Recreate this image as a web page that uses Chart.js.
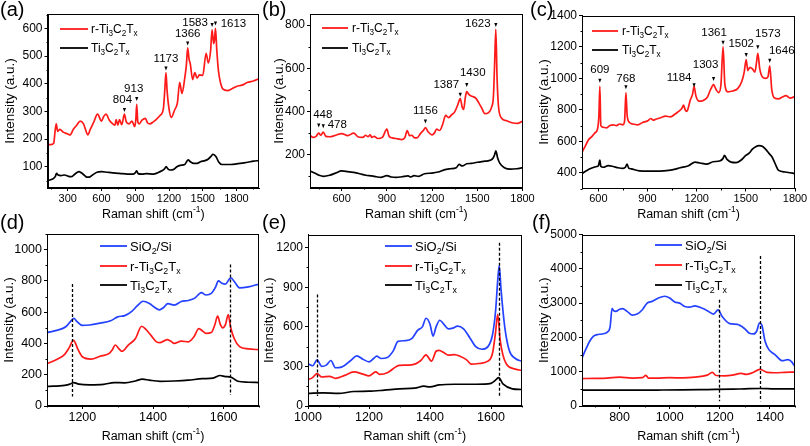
<!DOCTYPE html>
<html><head><meta charset="utf-8">
<script src="https://cdn.jsdelivr.net/npm/chart.js@4/dist/chart.umd.min.js"></script>
<style>
html,body{margin:0;padding:0;background:#fff;}
#wrap{position:relative;width:810px;height:446px;background:#fff;}
canvas{position:absolute;left:0;top:0;}
</style></head><body><div id="wrap">
<canvas id="ca" width="810" height="446"></canvas>
<canvas id="cb" width="810" height="446"></canvas>
<canvas id="cc" width="810" height="446"></canvas>
<canvas id="cd" width="810" height="446"></canvas>
<canvas id="ce" width="810" height="446"></canvas>
<canvas id="cf" width="810" height="446"></canvas>
</div>
<script>
// ---------------- DATA ----------------
// series names (markup: _x = subscript char, ^{..} = superscript)
const nameBlue = 'SiO_2/Si';
const nameRed = 'r-Ti_3C_2T_x';
const nameBlack = 'Ti_3C_2T_x';

// Panel (a)
const aTicksX = [300, 600, 900, 1200, 1500, 1800];
const aTicksY = [100, 200, 300, 400, 500, 600];
const aRedX = [120,150,175,188,198,210,230,260,290,320,350,380,410,440,460,478,500,530,565,600,620,640,670,700,720,730,745,760,780,804,820,845,870,895,905,913,922,935,960,990,1010,1030,1060,1090,1120,1150,1163,1173,1183,1200,1220,1250,1275,1295,1315,1340,1355,1366,1378,1390,1410,1430,1450,1470,1500,1530,1550,1570,1583,1597,1605,1613,1625,1640,1660,1680,1720,1760,1800,1850,1900,1950,2000];
const aRedY = [180,180,185,230,255,228,235,225,220,215,235,250,265,255,232,215,235,260,290,265,282,290,268,255,250,270,250,270,252,290,262,255,265,245,270,325,265,255,268,275,258,255,262,272,285,310,380,440,375,310,278,305,332,405,365,420,470,530,490,470,415,440,420,432,430,510,475,520,595,545,560,600,520,445,400,380,375,382,390,395,405,410,418];
const aBlackX = [120,150,175,190,200,215,240,270,300,330,360,385,400,420,445,470,490,520,560,600,650,700,760,830,880,900,913,925,960,1000,1060,1100,1140,1160,1175,1190,1210,1240,1270,1300,1340,1370,1390,1420,1450,1480,1520,1550,1575,1590,1605,1620,1640,1670,1700,1750,1800,1850,1900,1950,2000];
const aBlackY = [50,53,58,65,76,70,68,70,66,64,72,80,82,78,70,62,62,70,80,82,80,78,76,73,73,78,85,75,73,75,73,78,86,92,100,92,88,90,100,105,108,125,118,112,112,118,122,128,138,145,142,135,118,108,108,108,110,113,116,120,122];
const aPeakLabels = ['804', '913', '1173', '1366', '1583', '1613'];
const aPeakX = [804, 913, 1173, 1366, 1583, 1613];
const aPeakY = [305, 345, 455, 545, 612, 618];

// Panel (b)
const bTicksX = [600, 900, 1200, 1500, 1800];
const bTicksY = [200, 400, 600, 800];
const bRedX = [390,410,430,448,462,478,495,520,560,600,640,680,710,740,760,775,790,800,815,840,870,900,915,935,960,1000,1020,1035,1050,1065,1080,1100,1125,1145,1156,1175,1200,1215,1230,1250,1270,1290,1310,1330,1350,1370,1387,1400,1410,1420,1430,1445,1465,1490,1510,1530,1550,1575,1595,1607,1615,1623,1631,1640,1660,1690,1730,1770,1800];
const bRedY = [290,280,285,300,290,305,285,283,290,298,288,300,282,280,290,283,292,280,285,275,280,318,285,278,275,270,280,312,288,290,280,278,300,315,325,305,292,300,318,312,340,382,372,385,398,430,460,420,410,462,492,478,470,462,440,415,390,395,420,470,620,780,560,430,370,358,348,345,355];
const bBlackX = [390,420,450,480,520,560,600,640,680,720,760,800,830,860,900,930,960,1000,1040,1060,1080,1110,1150,1200,1240,1280,1320,1360,1380,1400,1430,1460,1500,1550,1590,1605,1615,1623,1635,1650,1680,1720,1760,1800];
const bBlackY = [125,115,105,100,105,115,125,122,118,112,105,102,98,95,103,97,95,98,102,97,103,100,112,115,120,130,135,140,155,148,158,160,165,170,175,185,200,218,185,160,140,133,135,140];
const bPeakLabels = ['448', '478', '1156', '1387', '1430', '1623'];
const bPeakX = [448, 478, 1156, 1387, 1430, 1623];
const bPeakY = [335, 332, 354, 477, 523, 800];

// Panel (c)
const cTicksX = [600, 900, 1200, 1500, 1800];
const cTicksY = [400, 600, 800, 1000, 1200, 1400];
const cRedX = [500,520,540,560,580,595,603,609,615,625,650,670,690,710,730,750,760,768,776,790,810,840,870,900,920,935,950,980,1010,1040,1070,1090,1110,1120,1130,1138,1145,1160,1175,1184,1195,1215,1240,1265,1285,1303,1318,1335,1348,1361,1372,1390,1420,1450,1475,1490,1502,1512,1525,1540,1555,1565,1573,1585,1600,1620,1635,1646,1658,1675,1700,1720,1745,1770,1800];
const cRedY = [530,570,610,630,655,680,760,950,700,690,685,700,705,700,710,705,730,910,760,720,710,705,720,730,745,735,740,750,760,755,775,790,810,830,800,790,800,860,900,950,890,855,860,880,930,960,930,910,960,1200,960,915,920,935,980,1040,1120,1050,1070,1060,1040,1100,1160,1060,1010,1000,1010,1080,930,875,870,880,890,875,885];
const cBlackX = [500,530,560,590,600,609,615,630,660,690,720,750,765,775,785,800,850,900,950,1000,1050,1100,1150,1190,1220,1260,1300,1340,1360,1370,1385,1410,1440,1470,1500,1520,1540,1560,1580,1600,1620,1640,1660,1680,1700,1740,1770,1800];
const cBlackY = [395,415,430,440,445,480,440,435,445,440,432,428,435,455,430,425,412,410,410,412,418,432,445,468,462,455,470,475,490,510,485,468,465,480,510,525,550,565,572,568,550,525,500,455,415,405,400,395];
const cPeakLabels = ['609', '768', '1184', '1303', '1361', '1502', '1573', '1646'];
const cPeakX = [609, 768, 1184, 1303, 1361, 1502, 1573, 1646];
const cPeakY = [985, 943, 957, 996, 1226, 1149, 1198, 1113];

// Panel (d)
const dTicksX = [1200, 1400, 1600];
const dTicksY = [0, 200, 400, 600, 800, 1000];
const dBlueX = [1100,1130,1155,1168,1176,1185,1200,1220,1250,1280,1300,1320,1340,1355,1372,1390,1405,1418,1430,1442,1460,1480,1500,1518,1530,1537,1550,1565,1577,1585,1595,1605,1620,1632,1645,1670,1700];
const dBlueY = [470,485,510,545,560,540,515,518,530,545,570,578,605,640,670,655,630,615,630,655,645,668,675,690,715,725,710,720,760,800,785,780,820,790,755,762,780];
const dRedX = [1100,1130,1150,1162,1175,1188,1200,1225,1250,1275,1285,1293,1302,1312,1330,1350,1368,1380,1395,1410,1420,1430,1440,1450,1460,1480,1500,1515,1530,1540,1550,1565,1575,1583,1590,1597,1605,1613,1620,1630,1645,1670,1700];
const dRedY = [270,300,330,370,420,360,315,300,318,335,360,390,370,350,390,430,510,490,450,410,405,415,425,415,400,415,410,440,495,480,465,470,520,575,525,500,520,585,500,430,380,365,360];
const dBlackX = [1100,1150,1165,1175,1190,1220,1260,1290,1320,1350,1370,1390,1420,1460,1500,1540,1570,1590,1605,1620,1640,1670,1700];
const dBlackY = [125,132,140,150,140,135,138,150,148,160,172,165,158,160,165,175,178,195,188,185,158,152,150];
const dDashX = [1172, 1617];
const dDashFrom = [60, 70];
const dDashTo = [780, 905];

// Panel (e)
const eTicksX = [1000, 1200, 1400, 1600];
const eTicksY = [0, 300, 600, 900, 1200];
const eBlueX = [1000,1015,1030,1045,1060,1075,1090,1110,1140,1160,1180,1200,1215,1225,1240,1260,1280,1295,1320,1340,1360,1375,1387,1400,1410,1420,1432,1445,1460,1475,1490,1510,1530,1550,1570,1590,1605,1615,1622,1627,1633,1645,1660,1680,1700];
const eBlueY = [320,305,350,300,310,345,290,295,345,380,355,335,360,378,360,368,420,490,495,510,575,600,665,620,530,600,650,620,585,590,605,585,520,450,430,450,540,720,950,1065,880,600,420,360,340];
const eRedX = [1000,1015,1030,1045,1070,1090,1120,1150,1180,1200,1222,1235,1260,1290,1300,1340,1370,1387,1405,1420,1430,1445,1460,1480,1500,1520,1535,1560,1590,1605,1615,1622,1630,1650,1680,1700];
const eRedY = [200,215,245,220,225,210,232,258,242,228,258,240,252,300,308,312,345,388,340,415,422,405,385,390,375,350,318,322,340,400,560,695,500,320,280,270];
const eBlackX = [1000,1050,1100,1150,1200,1250,1300,1350,1380,1400,1430,1480,1550,1600,1612,1625,1640,1670,1700];
const eBlackY = [95,100,95,110,112,120,130,135,150,145,160,165,165,172,190,215,165,130,125];
const eDashX = [1031, 1625];
const eDashFrom = [75, 75];
const eDashTo = [845, 1238];

// Panel (f)
const fTicksX = [800, 1000, 1200, 1400];
const fTicksY = [0, 1000, 2000, 3000, 4000, 5000];
const fBlueX = [650,665,680,695,710,730,750,762,770,776,785,800,812,830,850,870,890,910,930,955,980,1000,1020,1040,1060,1080,1100,1130,1150,1175,1193,1210,1240,1270,1300,1318,1335,1348,1358,1368,1380,1395,1420,1450,1470,1485,1500];
const fBlueY = [1400,1650,1880,2030,2080,2100,2150,2300,2850,2780,2760,2820,2840,2760,2650,2680,2800,3000,3050,3150,3200,3150,3030,3000,2900,2880,2920,2850,2780,2680,2800,2600,2400,2380,2250,2120,2100,2200,2420,2350,1900,1650,1500,1320,1350,1300,1150];
const fRedX = [650,700,750,800,850,890,905,915,950,1000,1050,1100,1150,1170,1185,1220,1250,1285,1305,1330,1360,1390,1420,1460,1500];
const fRedY = [800,805,815,840,815,825,890,815,815,825,820,840,900,980,890,880,900,950,920,970,1070,980,970,980,990];
const fBlackX = [650,750,850,950,1050,1150,1250,1300,1360,1420,1500];
const fBlackY = [460,460,462,465,470,480,490,500,510,500,500];
const fDashX = [1195, 1360];
const fDashFrom = [140, 140];
const fDashTo = [3100, 4370];

// ---------------- STYLE / LAYOUT ----------------
const FONT = "'Liberation Sans', Arial, Helvetica, sans-serif";
const COL = {blue: '#2442ff', red: '#ff1a1a', black: '#000000'};
const YW = 40, XH = 30;
const LINE_W = 1.7;

function pairs(xs, ys) { return xs.map((v, i) => ({x: v, y: ys[i]})); }

// rich text: _c subscript single char, ^{...} superscript
function parseRich(s) {
  const out = []; let cur = '';
  for (let i = 0; i < s.length; i++) {
    const ch = s[i];
    if (ch === '_') { if (cur) out.push([cur, 0]); cur = ''; out.push([s[i + 1], -1]); i++; }
    else if (ch === '^' && s[i + 1] === '{') { if (cur) out.push([cur, 0]); cur = ''; const j = s.indexOf('}', i); out.push([s.slice(i + 2, j), 1]); i = j; }
    else cur += ch;
  }
  if (cur) out.push([cur, 0]);
  return out;
}
function drawRich(ctx, s, x, y, size, align) {
  const segs = parseRich(s);
  const fs = k => (k === 0 ? size : size * 0.68);
  let w = 0;
  segs.forEach(([t, k]) => { ctx.font = fs(k) + 'px ' + FONT; w += ctx.measureText(t).width; });
  let cx = align === 'center' ? x - w / 2 : (align === 'right' ? x - w : x);
  const base = y + size * 0.36;
  ctx.textBaseline = 'alphabetic'; ctx.textAlign = 'left';
  segs.forEach(([t, k]) => {
    ctx.font = fs(k) + 'px ' + FONT;
    const by = k === 0 ? base : (k < 0 ? base + size * 0.26 : base - size * 0.42);
    ctx.fillText(t, cx, by);
    cx += ctx.measureText(t).width;
  });
}

const panels = [
  {id: 'ca', letter: '(a)', letterPos: [0, 10], box: [47.5, 14, 259, 188], xr: [120, 2000], yr: [23, 652],
   xt: aTicksX, yt: aTicksY, xFont: 11, yFont: 12, legFont: 12,
   series: [[nameRed, aRedX, aRedY, COL.red], [nameBlack, aBlackX, aBlackY, COL.black]],
   legend: {x0: 60, x1: 88, tx: 91, ys: [29, 48]}, yTitleX: 9, xTitleY: 213,
   peaks: [aPeakLabels, aPeakX, aPeakY], peakOff: [[-2, -10], [-3, -10], [0, -10], [0, -10], [-17, -2], [18, 0]]},
  {id: 'cb', letter: '(b)', letterPos: [262, 10], box: [310, 14, 522.5, 188], xr: [390, 1800], yr: [46, 851],
   xt: bTicksX, yt: bTicksY, xFont: 11, yFont: 12, legFont: 12,
   series: [[nameRed, bRedX, bRedY, COL.red], [nameBlack, bBlackX, bBlackY, COL.black]],
   legend: {x0: 322, x1: 348, tx: 352, ys: [28, 48]}, yTitleX: 278, xTitleY: 213,
   peaks: [bPeakLabels, bPeakX, bPeakY], peakOff: [[4, -11], [14, -1], [0, -11], [-14, -10], [6, -12], [-18, -1]]},
  {id: 'cc', letter: '(c)', letterPos: [530, 10], box: [582, 15.5, 795, 188.5], xr: [500, 1800], yr: [300, 1400],
   xt: cTicksX, yt: cTicksY, xFont: 11, yFont: 12, legFont: 12,
   series: [[nameRed, cRedX, cRedY, COL.red], [nameBlack, cBlackX, cBlackY, COL.black]],
   legend: {x0: 592, x1: 618, tx: 622, ys: [31, 50]}, yTitleX: 543, xTitleY: 213,
   peaks: [cPeakLabels, cPeakX, cPeakY], peakOff: [[0, -11], [0, -9], [-15, -7], [-8, -14], [-9, -10], [-5, -11], [10, -13], [12, -10]]},
  {id: 'cd', letter: '(d)', letterPos: [0, 223], box: [47, 234, 259, 406], xr: [1100, 1700], yr: [0, 1100],
   xt: dTicksX, yt: dTicksY, xFont: 12.5, yFont: 12.5, legFont: 13,
   series: [[nameBlue, dBlueX, dBlueY, COL.blue], [nameRed, dRedX, dRedY, COL.red], [nameBlack, dBlackX, dBlackY, COL.black]],
   legend: {x0: 100, x1: 127, tx: 130, ys: [246, 266, 285]}, yTitleX: 8, xTitleY: 435,
   dash: [dDashX, dDashFrom, dDashTo]},
  {id: 'ce', letter: '(e)', letterPos: [262, 223], box: [308, 234.5, 521.5, 406], xr: [1000, 1700], yr: [0, 1300],
   xt: eTicksX, yt: eTicksY, xFont: 12.5, yFont: 12, legFont: 13,
   series: [[nameBlue, eBlueX, eBlueY, COL.blue], [nameRed, eRedX, eRedY, COL.red], [nameBlack, eBlackX, eBlackY, COL.black]],
   legend: {x0: 385, x1: 412, tx: 415, ys: [246, 266, 285]}, yTitleX: 268, xTitleY: 435,
   dash: [eDashX, eDashFrom, eDashTo]},
  {id: 'cf', letter: '(f)', letterPos: [532, 223], box: [582, 234.5, 795, 406], xr: [650, 1500], yr: [0, 5000],
   xt: fTicksX, yt: fTicksY, xFont: 12.5, yFont: 12, legFont: 13,
   series: [[nameBlue, fBlueX, fBlueY, COL.blue], [nameRed, fRedX, fRedY, COL.red], [nameBlack, fBlackX, fBlackY, COL.black]],
   legend: {x0: 655, x1: 682, tx: 685, ys: [245, 265, 285]}, yTitleX: 543, xTitleY: 435,
   dash: [fDashX, fDashFrom, fDashTo]}
];

function minorVals(ticks, min, max) {
  const step = ticks[1] - ticks[0], out = [];
  for (let v = ticks[0] - step / 2; v >= min; v -= step) out.push(v);
  for (let v = ticks[0] + step / 2; v <= max; v += step) out.push(v);
  return out;
}

function decor(P) {
  return {
    id: 'decor_' + P.id,
    afterDraw(chart) {
      const {ctx, chartArea: ca} = chart;
      const xs = chart.scales.x, ys = chart.scales.y;
      ctx.save();
      ctx.fillStyle = '#000'; ctx.strokeStyle = '#000';
      // dashed guide lines
      if (P.dash) {
        ctx.save();
        ctx.setLineDash([3, 2]); ctx.lineWidth = 1.3;
        P.dash[0].forEach((xv, i) => {
          const px = Math.round(xs.getPixelForValue(xv)) + 0.5;
          ctx.beginPath();
          ctx.moveTo(px, ys.getPixelForValue(P.dash[2][i]));
          ctx.lineTo(px, ys.getPixelForValue(P.dash[1][i]));
          ctx.stroke();
        });
        ctx.restore();
      }
      // frame
      ctx.lineWidth = 1;
      const L = Math.round(ca.left) + 0.5, T = Math.round(ca.top) + 0.5, R = Math.round(ca.right) - 0.5, B = Math.round(ca.bottom) - 0.5;
      ctx.strokeRect(L, T, R - L, B - T);
      // minor ticks
      ctx.beginPath();
      minorVals(P.xt, P.xr[0], P.xr[1]).forEach(v => { const px = Math.round(xs.getPixelForValue(v)) + 0.5; ctx.moveTo(px, B); ctx.lineTo(px, B + 2); });
      minorVals(P.yt, P.yr[0], P.yr[1]).forEach(v => { const py = Math.round(ys.getPixelForValue(v)) + 0.5; ctx.moveTo(L, py); ctx.lineTo(L - 2, py); });
      ctx.stroke();
      // axis titles
      drawRich(ctx, 'Raman shift (cm^{-1})', (ca.left + ca.right) / 2, P.xTitleY, 12.5, 'center');
      ctx.save();
      ctx.translate(P.yTitleX, (ca.top + ca.bottom) / 2);
      ctx.rotate(-Math.PI / 2);
      drawRich(ctx, 'Intensity (a.u.)', 0, 0, 13.5, 'center');
      ctx.restore();
      // panel letter
      ctx.font = '20px ' + FONT; ctx.textBaseline = 'middle'; ctx.textAlign = 'left';
      ctx.fillText(P.letter, P.letterPos[0], P.letterPos[1]);
      // legend
      P.series.forEach((s, i) => {
        const y = P.legend.ys[i];
        ctx.strokeStyle = s[3]; ctx.lineWidth = 1.8;
        ctx.beginPath(); ctx.moveTo(P.legend.x0, y); ctx.lineTo(P.legend.x1, y); ctx.stroke();
        ctx.fillStyle = '#000';
        drawRich(ctx, s[0], P.legend.tx, y, P.legFont, 'left');
      });
      // peak annotations
      if (P.peaks) {
        const [labs, px, py] = P.peaks;
        labs.forEach((t, i) => {
          const X = xs.getPixelForValue(px[i]), Y = ys.getPixelForValue(py[i]);
          ctx.fillStyle = '#000';
          ctx.beginPath(); ctx.moveTo(X - 1.6, Y - 2); ctx.lineTo(X + 1.6, Y - 2); ctx.lineTo(X, Y + 2); ctx.closePath(); ctx.fill();
          ctx.font = '11.5px ' + FONT; ctx.textAlign = 'center'; ctx.textBaseline = 'middle';
          ctx.fillText(t, X + P.peakOff[i][0], Y + P.peakOff[i][1]);
        });
      }
      ctx.restore();
    }
  };
}

panels.forEach(P => {
  const datasets = P.series.map(s => ({
    label: s[0], data: pairs(s[1], s[2]), borderColor: s[3], borderWidth: LINE_W,
    pointRadius: 0, fill: false, cubicInterpolationMode: 'monotone'
  }));
  new Chart(document.getElementById(P.id), {
    type: 'line',
    data: {datasets},
    options: {
      responsive: false, animation: false, events: [],
      layout: {padding: {left: P.box[0] - YW, top: P.box[1], right: 810 - P.box[2], bottom: 446 - P.box[3] - XH}},
      plugins: {legend: {display: false}, tooltip: {enabled: false}},
      scales: {
        x: {type: 'linear', min: P.xr[0], max: P.xr[1],
            afterFit: s => { s.height = XH; },
            afterBuildTicks: s => { s.ticks = P.xt.map(v => ({value: v})); },
            ticks: {font: {family: FONT, size: P.xFont}, color: '#000', padding: 1, maxRotation: 0, autoSkip: false, callback: v => String(v)},
            grid: {drawOnChartArea: false, drawTicks: true, tickLength: 3, color: '#000', lineWidth: 1},
            border: {color: '#000', width: 1}},
        y: {type: 'linear', min: P.yr[0], max: P.yr[1],
            afterFit: s => { s.width = YW; },
            afterBuildTicks: s => { s.ticks = P.yt.map(v => ({value: v})); },
            ticks: {font: {family: FONT, size: P.yFont}, color: '#000', padding: 2, autoSkip: false, callback: v => String(v)},
            grid: {drawOnChartArea: false, drawTicks: true, tickLength: 3, color: '#000', lineWidth: 1},
            border: {color: '#000', width: 1}}
      }
    },
    plugins: [decor(P)]
  });
});
</script>
</body></html>
